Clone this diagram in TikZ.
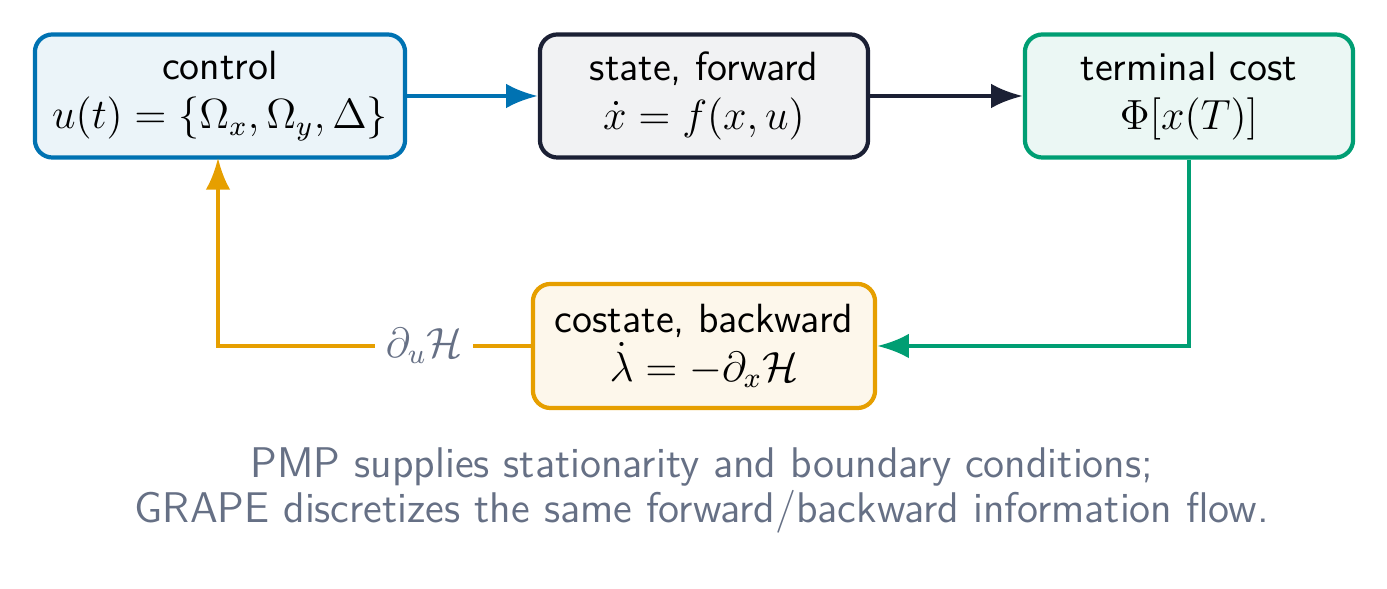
\documentclass[tikz,border=0pt]{standalone}
\usetikzlibrary{arrows.meta}
\definecolor{cblue}{HTML}{0072B2}
\definecolor{cdark}{HTML}{1B2034}
\definecolor{cgreen}{HTML}{009E73}
\definecolor{corange}{HTML}{E69F00}
\definecolor{cgray}{HTML}{667085}
\begin{document}
\begin{tikzpicture}[x=0.01cm,y=-0.01cm,
  box/.style={draw,line width=1.2pt,rounded corners=5pt,align=center,font=\fontsize{11.6}{14}\sffamily,inner sep=0pt},
  arr/.style={line width=1.2pt,-{Latex[length=9pt,width=7pt]}}]
\useasboundingbox (0,0) rectangle (1387,589);
\node[box,draw=cblue,fill=cblue!8,minimum width=3.7cm,minimum height=1.23cm] (c) at (220,96) {control\\$u(t)=\{\Omega_x,\Omega_y,\Delta\}$};
\node[box,draw=cdark,fill=cdark!6,minimum width=3.28cm,minimum height=1.23cm] (s) at (704,96) {state, forward\\$\dot x=f(x,u)$};
\node[box,draw=cgreen,fill=cgreen!8,minimum width=3.28cm,minimum height=1.23cm] (t) at (1189,96) {terminal cost\\$\Phi[x(T)]$};
\node[box,draw=corange,fill=corange!8,minimum width=3.42cm,minimum height=1.24cm] (k) at (704,346) {costate, backward\\$\dot\lambda=-\partial_x\mathcal{H}$};
\draw[arr,draw=cblue] (c) -- (s);
\draw[arr,draw=cdark] (s) -- (t);
\draw[arr,draw=cgreen] (t.south) |- (k.east);
\coordinate (cb) at (218,158);
\draw[arr,draw=corange] (k.west) -| (cb) node[pos=0.17,fill=white,text=cgray,inner sep=3pt,font=\fontsize{11.6}{14}\selectfont] (lab) {$\partial_u\mathcal{H}$};
\node[text=cgray,font=\fontsize{12.2}{12.8}\sffamily,align=center] (cap) at (702,490) {PMP supplies stationarity and boundary conditions;\\GRAPE discretizes the same forward/backward information flow.};
\end{tikzpicture}
\end{document}
